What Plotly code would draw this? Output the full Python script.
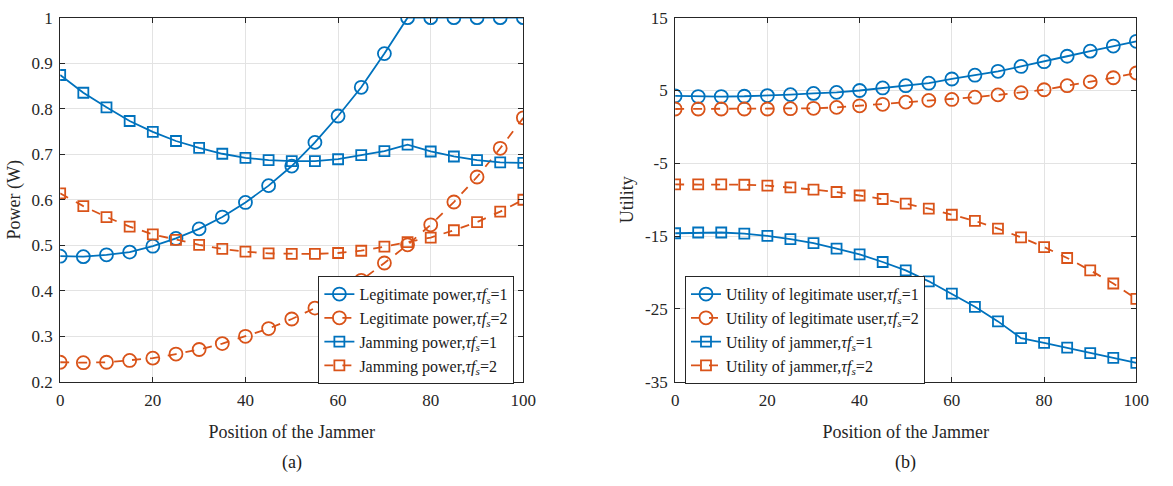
import plotly.graph_objects as go

x = list(range(0, 101, 5))

# Panel (a): Power (W)
legit_p1 = [0.476, 0.475, 0.479, 0.485, 0.498, 0.515, 0.536, 0.562, 0.594, 0.631, 0.674,
            0.726, 0.784, 0.847, 0.921, 1.0, 1.0, 1.0, 1.0, 1.0, 1.0]
legit_p2 = [0.243, 0.242, 0.243, 0.247, 0.252, 0.261, 0.271, 0.284, 0.300, 0.317, 0.338,
            0.362, 0.390, 0.423, 0.461, 0.501, 0.545, 0.595, 0.650, 0.713, 0.780]
jam_p1 = [0.874, 0.835, 0.803, 0.773, 0.749, 0.729, 0.714, 0.701, 0.692, 0.687, 0.685,
          0.685, 0.689, 0.698, 0.707, 0.721, 0.706, 0.695, 0.687, 0.682, 0.681]
jam_p2 = [0.614, 0.586, 0.562, 0.541, 0.524, 0.512, 0.501, 0.492, 0.486, 0.482, 0.481,
          0.481, 0.483, 0.488, 0.497, 0.507, 0.517, 0.533, 0.551, 0.574, 0.600]

# Panel (b): Utility
util_legit1 = [4.25, 4.17, 4.17, 4.21, 4.30, 4.43, 4.60, 4.74, 5.00, 5.35, 5.66,
               6.00, 6.58, 7.10, 7.63, 8.30, 8.95, 9.70, 10.40, 11.10, 11.75]
util_legit2 = [2.46, 2.46, 2.46, 2.46, 2.46, 2.50, 2.55, 2.68, 2.90, 3.10, 3.40,
               3.64, 3.77, 4.08, 4.40, 4.70, 5.10, 5.66, 6.18, 6.75, 7.40]
util_jam1 = [-14.6, -14.5, -14.5, -14.65, -14.96, -15.4, -15.96, -16.7, -17.5, -18.55, -19.7,
             -21.2, -22.9, -24.7, -26.7, -29.0, -29.65, -30.3, -31.05, -31.7, -32.4]
util_jam2 = [-7.9, -7.9, -7.9, -7.94, -8.07, -8.29, -8.6, -8.94, -9.42, -9.9, -10.54,
             -11.23, -12.06, -12.9, -13.96, -15.17, -16.5, -18.0, -19.7, -21.5, -23.6]

x_ticks = [0, 20, 40, 60, 80, 100]
p_ticks = [0.2, 0.3, 0.4, 0.5, 0.6, 0.7, 0.8, 0.9, 1.0]
p_ticktext = ["0.2", "0.3", "0.4", "0.5", "0.6", "0.7", "0.8", "0.9", "1"]
u_ticks = [-35, -25, -15, -5, 5, 15]
u_ticktext = ["-35", "-25", "-15", "-5", "5", "15"]

names_a = ["Legitimate power,<i>τf<sub>s</sub></i>=1",
           "Legitimate power,<i>τf<sub>s</sub></i>=2",
           "Jamming power,<i>τf<sub>s</sub></i>=1",
           "Jamming power,<i>τf<sub>s</sub></i>=2"]
names_b = ["Utility of legitimate user,<i>τf<sub>s</sub></i>=1",
           "Utility of legitimate user,<i>τf<sub>s</sub></i>=2",
           "Utility of jammer,<i>τf<sub>s</sub></i>=1",
           "Utility of jammer,<i>τf<sub>s</sub></i>=2"]

BLUE = "#0072BD"
ORANGE = "#D95319"
FONT = "Liberation Serif, Times New Roman, serif"

fig = go.Figure()

def add(ys, name, color, dash, symbol, xa, ya, legend):
    size = 13 if symbol == "circle-open" else 10
    fig.add_trace(go.Scatter(
        x=x, y=ys, name=name, mode="lines+markers",
        line=dict(color=color, width=1.8, dash=dash),
        marker=dict(symbol=symbol, size=size, color=color, line=dict(color=color, width=1.8)),
        xaxis=xa, yaxis=ya, legend=legend))

add(legit_p1, names_a[0], BLUE, "solid", "circle-open", "x", "y", "legend")
add(legit_p2, names_a[1], ORANGE, "dash", "circle-open", "x", "y", "legend")
add(jam_p1, names_a[2], BLUE, "solid", "square-open", "x", "y", "legend")
add(jam_p2, names_a[3], ORANGE, "dash", "square-open", "x", "y", "legend")

add(util_legit1, names_b[0], BLUE, "solid", "circle-open", "x2", "y2", "legend2")
add(util_legit2, names_b[1], ORANGE, "dash", "circle-open", "x2", "y2", "legend2")
add(util_jam1, names_b[2], BLUE, "solid", "square-open", "x2", "y2", "legend2")
add(util_jam2, names_b[3], ORANGE, "dash", "square-open", "x2", "y2", "legend2")

W, H = 1173, 486
ydom = [1 - 388 / H, 1 - 9 / H]
axis_common = dict(showline=True, linecolor="#262626", linewidth=1, mirror="ticks",
                   ticks="inside", ticklen=5, tickcolor="#262626",
                   showgrid=True, gridcolor="#e3e3e3", gridwidth=1, zeroline=False,
                   ticklabeloverflow="allow", ticklabelstandoff=3,
                   tickfont=dict(family=FONT, size=17, color="#262626"))

title_font = dict(family=FONT, size=18, color="#262626")

fig.update_layout(
    width=W, height=H, margin=dict(l=0, r=0, t=0, b=0),
    paper_bgcolor="white", plot_bgcolor="white",
    font=dict(family=FONT, size=18, color="#262626"),
    xaxis=dict(domain=[57 / W, 527 / W], range=[0, 100], tickvals=x_ticks, anchor="y",
               title=dict(text="Position of the Jammer", font=title_font, standoff=16),
               **axis_common),
    yaxis=dict(domain=ydom, range=[0.2, 1.0], tickvals=p_ticks, ticktext=p_ticktext, anchor="x",
               title=dict(text="Power (W)", font=title_font, standoff=6),
               **axis_common),
    xaxis2=dict(domain=[681 / W, 1149 / W], range=[0, 100], tickvals=x_ticks, anchor="y2",
                title=dict(text="Position of the Jammer", font=title_font, standoff=16),
                **axis_common),
    yaxis2=dict(domain=ydom, range=[-35, 15], tickvals=u_ticks, ticktext=u_ticktext, anchor="x2",
                title=dict(text="Utility", font=title_font, standoff=6),
                **axis_common),
    legend=dict(x=319 / W, y=1 - 278 / H, xanchor="left", yanchor="top",
                bgcolor="white", bordercolor="#262626", borderwidth=1,
                font=dict(family=FONT, size=16, color="#1a1a1a"), tracegroupgap=0),
    legend2=dict(x=691 / W, y=1 - 278 / H, xanchor="left", yanchor="top",
                 bgcolor="white", bordercolor="#262626", borderwidth=1,
                 font=dict(family=FONT, size=16, color="#1a1a1a"), tracegroupgap=0),
    showlegend=True,
    annotations=[
        dict(text="(a)", x=(57 + 527) / 2 / W, y=1 - 472 / H, xref="paper", yref="paper",
             xanchor="center", yanchor="middle",
             showarrow=False, font=dict(family=FONT, size=18, color="#1a1a1a")),
        dict(text="(b)", x=(681 + 1149) / 2 / W, y=1 - 472 / H, xref="paper", yref="paper",
             xanchor="center", yanchor="middle",
             showarrow=False, font=dict(family=FONT, size=18, color="#1a1a1a")),
    ],
)

fig.write_html("out.html")
